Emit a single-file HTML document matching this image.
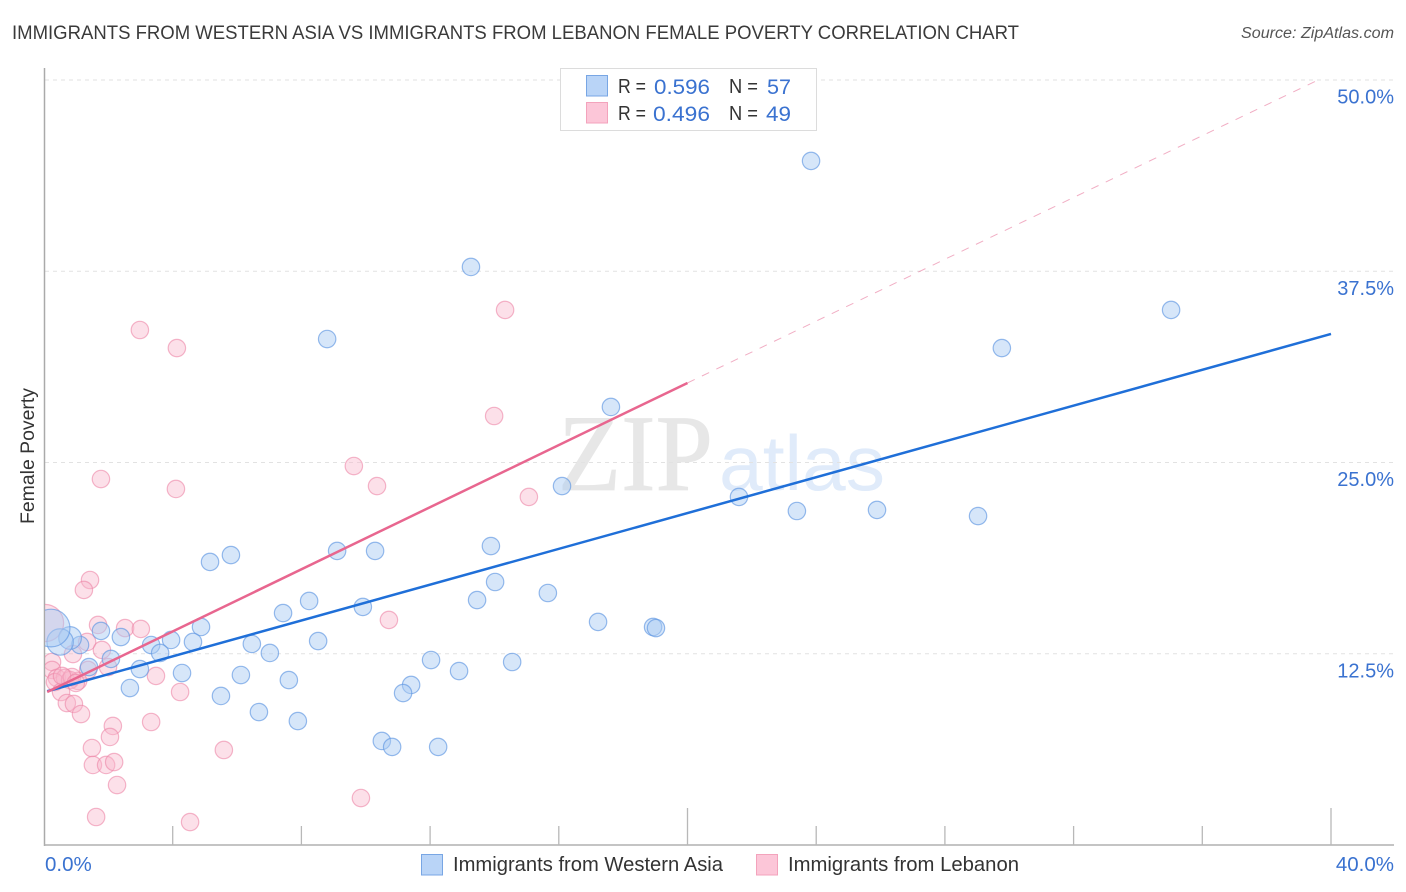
<!DOCTYPE html>
<html lang="en">
<head>
<meta charset="utf-8">
<title>Immigrants from Western Asia vs Immigrants from Lebanon Female Poverty Correlation Chart</title>
<style>
html,body{margin:0;padding:0;background:#fff;width:1406px;height:892px;overflow:hidden}
svg{display:block}
text{font-family:"Liberation Sans",sans-serif}
</style>
</head>
<body>
<svg id="chart" xmlns="http://www.w3.org/2000/svg" width="1406" height="892" viewBox="0 0 1406 892">
  <defs>
    <clipPath id="plot-clip"><rect x="45" y="60" width="1349" height="785"/></clipPath>
  </defs>
  <text x="12" y="39" font-size="19" fill="#3a3a3a" textLength="1007" lengthAdjust="spacingAndGlyphs">IMMIGRANTS FROM WESTERN ASIA VS IMMIGRANTS FROM LEBANON FEMALE POVERTY CORRELATION CHART</text>
  <text x="1394" y="38" font-size="15.5" font-style="italic" fill="#555" text-anchor="end" textLength="153" lengthAdjust="spacingAndGlyphs">Source: ZipAtlas.com</text>

  <g id="watermark">
    <text x="558" y="490" style="font-family:'Liberation Serif',serif" font-size="109" fill="#e7e7e7" stroke="#e7e7e7" stroke-width="0.8" textLength="155" lengthAdjust="spacingAndGlyphs">ZIP</text>
    <text x="719" y="490" style="font-family:'Liberation Sans',sans-serif" font-size="78" fill="#e0ebfa" textLength="166" lengthAdjust="spacingAndGlyphs">atlas</text>
  </g>

  <g id="grid"></g>
  <g id="axes"></g>
  <g id="points-pink" clip-path="url(#plot-clip)"></g>
  <g id="points-blue" clip-path="url(#plot-clip)"></g>
  <g id="trends"></g>
  <g id="tick-labels"></g>

  <text transform="translate(34,456) rotate(-90)" font-size="19" fill="#333" text-anchor="middle" textLength="136" lengthAdjust="spacingAndGlyphs">Female Poverty</text>

  <g>
    <rect x="560.5" y="68.5" width="256" height="62" fill="#fff" stroke="#dcdcdc" stroke-width="1"/>
    <rect x="586.5" y="75.5" width="21" height="20.5" fill="#b9d4f7" stroke="#78a6e4" stroke-width="1"/>
    <rect x="586.5" y="102.5" width="21" height="20.5" fill="#fcc6d8" stroke="#f3a3bc" stroke-width="1"/>
    <text x="618" y="93" font-size="20" fill="#333" textLength="28" lengthAdjust="spacingAndGlyphs">R =</text>
    <text x="654" y="94" font-size="21.5" fill="#3a72d0" textLength="56" lengthAdjust="spacingAndGlyphs">0.596</text>
    <text x="729" y="93" font-size="20" fill="#333" textLength="29" lengthAdjust="spacingAndGlyphs">N =</text>
    <text x="767" y="94" font-size="21.5" fill="#3a72d0" textLength="24" lengthAdjust="spacingAndGlyphs">57</text>
    <text x="618" y="120" font-size="20" fill="#333" textLength="28" lengthAdjust="spacingAndGlyphs">R =</text>
    <text x="653" y="121" font-size="21.5" fill="#3a72d0" textLength="57" lengthAdjust="spacingAndGlyphs">0.496</text>
    <text x="729" y="120" font-size="20" fill="#333" textLength="29" lengthAdjust="spacingAndGlyphs">N =</text>
    <text x="766" y="121" font-size="21.5" fill="#3a72d0" textLength="25" lengthAdjust="spacingAndGlyphs">49</text>
  </g>

  <g>
    <rect x="421.5" y="854.5" width="21" height="20.5" fill="#b9d4f7" stroke="#78a6e4" stroke-width="1"/>
    <text x="453" y="871" font-size="20" fill="#333" textLength="270" lengthAdjust="spacingAndGlyphs">Immigrants from Western Asia</text>
    <rect x="756.5" y="854.5" width="21" height="20.5" fill="#fcc6d8" stroke="#f3a3bc" stroke-width="1"/>
    <text x="788" y="871" font-size="20" fill="#333" textLength="231" lengthAdjust="spacingAndGlyphs">Immigrants from Lebanon</text>
  </g>
</svg>
<script>
const blueX = [23.84,13.27,8.80,35.03,29.77,17.62,16.10,21.60,23.40,25.89,29.03,13.89,10.29,9.11,5.81,5.16,14.02,15.66,13.46,8.24,9.91,7.43,17.22,18.93,19.02,4.88,1.77,2.39,3.95,8.52,4.63,6.46,3.33,1.12,3.61,7.02,2.08,12.03,14.55,2.98,1.40,4.29,12.90,6.12,7.61,11.41,11.16,2.67,5.50,6.68,7.89,10.50,10.82,12.25,0.81,0.50,0.22];
const blueY = [44.71,37.78,33.07,34.97,32.48,28.63,23.46,22.75,21.83,21.90,21.50,19.54,19.22,19.22,18.95,18.50,17.19,16.47,16.01,15.95,15.56,15.16,14.58,14.25,14.18,14.25,13.99,13.59,13.40,13.33,13.27,13.14,13.07,13.07,12.55,12.55,12.16,12.09,11.96,11.50,11.63,11.24,11.37,11.11,10.78,10.46,9.93,10.26,9.74,8.69,8.10,6.80,6.41,6.41,13.53,13.27,14.18];
const blueWeight = [1,1,1,1,1,1,1,1,1,1,1,1,1,1,1,1,1,1,1,1,1,1,1,1,1,1,1,1,1,1,1,1,1,1,1,1,1,1,1,1,1,1,1,1,1,1,1,1,1,1,1,1,1,1,1.7,2.3,4.7];
const pinkX = [14.33,2.98,4.13,13.99,9.63,1.77,10.35,4.10,15.07,1.43,1.24,10.72,1.68,2.52,3.01,1.34,0.90,1.80,1.99,1.37,3.48,4.23,3.33,2.14,2.05,1.49,5.59,1.52,1.93,2.18,2.27,1.62,4.54,9.85,0.25,0.25,0.40,0.65,0.34,1.06,0.81,0.53,0.71,0.93,1.15,0.87,0.56,0.99,0.03];
const pinkY = [34.97,33.66,32.48,28.04,24.77,23.92,23.46,23.27,22.75,17.32,16.67,14.71,14.38,14.18,14.12,13.27,12.48,12.75,11.63,11.44,11.05,10.00,8.04,7.78,7.06,6.34,6.21,5.23,5.23,5.42,3.92,1.83,1.50,3.07,11.96,11.44,10.92,10.92,10.65,10.72,10.78,10.00,9.28,9.22,8.56,10.98,11.05,10.59,14.51];
const pinkWeight = [1,1,1,1,1,1,1,1,1,1,1,1,1,1,1,1,1,1,1,1,1,1,1,1,1,1,1,1,1,1,1,1,1,1,1,1,1,1,1,1,1,1,1,1,1,1,1,1,4.6];
const xTickValues = [0,4,8,12,16,20,24,28,32,36,40];
const xLabelValues = [0,40];
const xLabelText = ["0.0%","40.0%"];
const yTickValues = [12.5,25,37.5,50];
const yLabelText = ["12.5%","25.0%","37.5%","50.0%"];
const blueTrendX = [0.1,40];
const blueTrendY = [10.05,33.4];
const pinkSolidX = [0.1,20];
const pinkSolidY = [10.0,30.2];
const pinkDashX = [20,39.6];
const pinkDashY = [30.2,50];

const SVGNS = "http://www.w3.org/2000/svg";
const sx = v => 44 + v * 32.175;
const sy = v => 845 - v * 15.3;
const baseRadius = 8.7;

function make(tag, attrs, parent) {
  const el = document.createElementNS(SVGNS, tag);
  for (const k in attrs) el.setAttribute(k, attrs[k]);
  parent.appendChild(el);
  return el;
}

const grid = document.getElementById("grid");
const axes = document.getElementById("axes");
const labels = document.getElementById("tick-labels");
const pinkG = document.getElementById("points-pink");
const blueG = document.getElementById("points-blue");
const trends = document.getElementById("trends");

yTickValues.forEach(v => {
  const l = make("line", {x1:45, x2:1394, y1:sy(v), y2:sy(v), stroke:"#e2e2e2", "stroke-width":1, "stroke-dasharray":"4 4"}, grid);
  
  
});

const yAxis = make("line", {x1:44.5, x2:44.5, y1:68, y2:846, stroke:"#aaa", "stroke-width":1.5}, axes);


const xAxis = make("line", {x1:44, x2:1394, y1:845, y2:845, stroke:"#b0b0b0", "stroke-width":1.5}, axes);



xTickValues.forEach(v => {
  if (v === 0) return;
  const top = (v % 20 === 0) ? 808 : 826;
  const t = make("line", {x1:sx(v), x2:sx(v), y1:top, y2:845, stroke:"#b8b8b8", "stroke-width":1.3}, axes);
  
  
});

yTickValues.forEach((v, i) => {
  const t = make("text", {x:1394, y:sy(v)+23.5, "font-size":20, fill:"#3a72d0", "text-anchor":"end"}, labels);
  
  
  t.textContent = yLabelText[i];
});

xLabelValues.forEach((v, i) => {
  const t = make("text", {x: v === 0 ? 45 : 1394, y:871, "font-size":20.5, fill:"#3a72d0", "text-anchor": v === 0 ? "start" : "end"}, labels);
  
  
  t.textContent = xLabelText[i];
});

pinkX.forEach((v, i) => {
  const c = make("circle", {cx:sx(v), cy:sy(pinkY[i]), r:baseRadius*Math.sqrt(pinkWeight[i]), fill:"#f8b6cb", "fill-opacity":0.42, stroke:"#ec86a6", "stroke-opacity":0.6, "stroke-width":1.2}, pinkG);
  
  
});

blueX.forEach((v, i) => {
  const c = make("circle", {cx:sx(v), cy:sy(blueY[i]), r:baseRadius*Math.sqrt(blueWeight[i]), fill:"#a9caf3", "fill-opacity":0.48, stroke:"#5f96e2", "stroke-opacity":0.65, "stroke-width":1.2}, blueG);
  
  
});

const pinkDash = make("line", {x1:sx(pinkDashX[0]), y1:sy(pinkDashY[0]), x2:sx(pinkDashX[1]), y2:sy(pinkDashY[1]), stroke:"#e8789c", "stroke-width":1, "stroke-opacity":0.6, "stroke-dasharray":"8 8"}, trends);


const blueLine = make("line", {x1:sx(blueTrendX[0]), y1:sy(blueTrendY[0]), x2:sx(blueTrendX[1]), y2:sy(blueTrendY[1]), stroke:"#1f6fd8", "stroke-width":2.5}, trends);


const pinkSolid = make("line", {x1:sx(pinkSolidX[0]), y1:sy(pinkSolidY[0]), x2:sx(pinkSolidX[1]), y2:sy(pinkSolidY[1]), stroke:"#e8668f", "stroke-width":2.5}, trends);


</script>
</body>
</html>
